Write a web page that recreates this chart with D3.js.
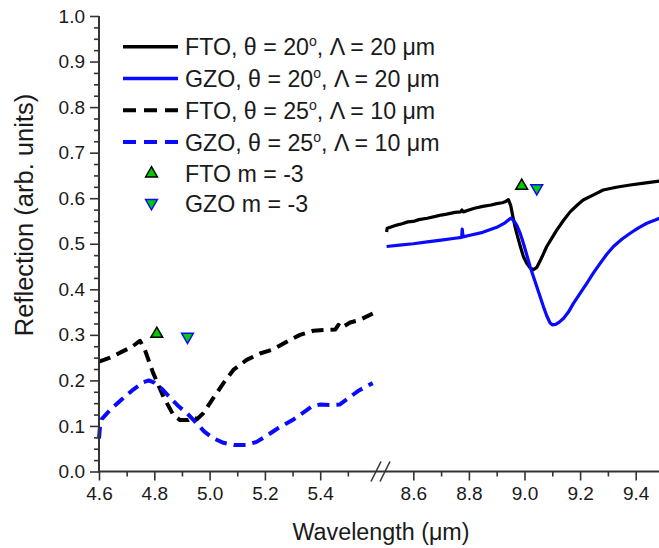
<!DOCTYPE html>
<html><head><meta charset="utf-8">
<script src="https://cdn.jsdelivr.net/npm/d3@7/dist/d3.min.js"></script>
<style>
html,body{margin:0;padding:0;background:#fff;}
svg{display:block;font-family:"Liberation Sans",Arial,sans-serif;}
</style></head>
<body>
<svg id="chart" width="659" height="548"></svg>
<script>
// ---------- data ----------
const yTicks = [0,0.1,0.2,0.3,0.4,0.5,0.6,0.7,0.8,0.9,1.0];
const xTicksLeft = [4.6,4.8,5.0,5.2,5.4];
const xMinorLeft = [4.7,4.9,5.1,5.3,5.5];
const xTicksRight = [8.6,8.8,9.0,9.2,9.4];
const xMinorRight = [8.7,8.9,9.1,9.3];

// FTO, theta = 20, Lambda = 20 um (solid black, right segment)
const ftoSolidX = [8.504,8.506,8.52,8.54,8.56,8.58,8.60,8.62,8.65,8.68,8.70,8.72,8.75,8.77,8.775,8.78,8.80,8.82,8.85,8.88,8.90,8.92,8.93,8.942,8.950,8.958,8.965,8.972,8.984,8.996,9.008,9.020,9.032,9.044,9.060,9.080,9.100,9.116,9.140,9.164,9.190,9.211,9.250,9.283,9.330,9.380,9.430,9.490];
const ftoSolidY = [0.526,0.534,0.537,0.541,0.544,0.548,0.549,0.553,0.556,0.560,0.563,0.565,0.569,0.570,0.574,0.570,0.574,0.578,0.582,0.585,0.588,0.590,0.592,0.597,0.585,0.560,0.540,0.523,0.496,0.472,0.457,0.447,0.443,0.448,0.467,0.494,0.514,0.530,0.551,0.570,0.585,0.596,0.608,0.618,0.624,0.629,0.633,0.638];

// GZO, theta = 20, Lambda = 20 um (solid blue, right segment)
const gzoSolidX = [8.504,8.55,8.60,8.65,8.70,8.75,8.774,8.776,8.779,8.80,8.85,8.90,8.93,8.950,8.960,8.972,8.985,8.996,9.008,9.020,9.032,9.044,9.056,9.068,9.080,9.092,9.100,9.112,9.125,9.140,9.158,9.176,9.200,9.224,9.248,9.272,9.296,9.320,9.350,9.380,9.410,9.440,9.470,9.490];
const gzoSolidY = [0.494,0.497,0.500,0.504,0.508,0.512,0.514,0.532,0.515,0.518,0.525,0.536,0.546,0.556,0.552,0.541,0.522,0.501,0.476,0.450,0.428,0.406,0.384,0.362,0.342,0.326,0.322,0.323,0.328,0.336,0.350,0.369,0.391,0.413,0.436,0.457,0.477,0.494,0.510,0.523,0.535,0.545,0.552,0.557];

// FTO, theta = 25, Lambda = 10 um (dashed black, left segment)
const ftoDashX = [4.600,4.640,4.680,4.720,4.748,4.766,4.796,4.833,4.869,4.893,4.923,4.941,4.955,4.977,5.013,5.050,5.086,5.134,5.182,5.230,5.279,5.327,5.375,5.424,5.455,5.466,5.475,5.508,5.544,5.590];
const ftoDashY = [0.241,0.250,0.262,0.274,0.287,0.267,0.216,0.164,0.124,0.113,0.113,0.120,0.115,0.128,0.161,0.194,0.223,0.245,0.259,0.268,0.285,0.300,0.309,0.311,0.312,0.322,0.315,0.327,0.333,0.347];

// GZO, theta = 25, Lambda = 10 um (dashed blue, left segment)
const gzoDashX = [4.600,4.603,4.610,4.640,4.680,4.720,4.760,4.780,4.800,4.830,4.860,4.890,4.920,4.950,4.980,5.010,5.050,5.090,5.130,5.170,5.210,5.250,5.300,5.340,5.370,5.400,5.440,5.470,5.500,5.540,5.590];
const gzoDashY = [0.072,0.095,0.115,0.135,0.157,0.178,0.196,0.200,0.195,0.180,0.160,0.142,0.127,0.108,0.088,0.074,0.063,0.058,0.058,0.065,0.080,0.096,0.113,0.130,0.143,0.147,0.146,0.147,0.160,0.178,0.194];

// m = -3 markers
const ftoMarkX = [4.809, 8.99];
const ftoMarkY = [0.302, 0.627];
const gzoMarkX = [4.92, 9.044];
const gzoMarkY = [0.296, 0.622];

const legendLabels = ["FTO, θ = 20", "GZO, θ = 20", "FTO, θ = 25", "GZO, θ = 25"];
const legendTails = [", Λ = 20 μm", ", Λ = 20 μm", ", Λ = 10 μm", ", Λ = 10 μm"];
const markerLabels = ["FTO m = -3", "GZO m = -3"];

// ---------- drawing ----------
const svg = d3.select("#chart");
const xL = d3.scaleLinear().domain([4.6,5.6]).range([99,375.5]);
const xR = d3.scaleLinear().domain([8.5,9.5]).range([385.5,663.5]);
const y = d3.scaleLinear().domain([0,1]).range([471.5,16]);

const BLACK = "#000000", BLUE = "#0a0aff", GREEN = "#00cc00", AX = "#333333", TXT = "#1a1a1a";

function zip(xs, ys){ return xs.map((v,i)=>[v, ys[i]]); }

function drawLine(xs, ys, xs_scale, color, dashed){
  const line = d3.line().x(d=>xs_scale(d[0])).y(d=>y(d[1]));
  svg.append("path").datum(zip(xs,ys))
    .attr("d", line)
    .attr("fill","none")
    .attr("stroke", color)
    .attr("stroke-width", dashed ? 4 : 3.2)
    .attr("stroke-linejoin","round")
    .attr("stroke-dasharray", dashed ? "12,7" : null);
}

drawLine(ftoSolidX, ftoSolidY, xR, BLACK, false);
drawLine(gzoSolidX, gzoSolidY, xR, BLUE, false);
drawLine(ftoDashX, ftoDashY, xL, BLACK, true);
drawLine(gzoDashX, gzoDashY, xL, BLUE, true);

const triUp = d3.symbol().type(d3.symbolTriangle).size(60);
function markers(xs, ys, up, stroke){
  xs.forEach((xv,i)=>{
    const sc = xv < 7 ? xL : xR;
    svg.append("path").attr("d", triUp())
      .attr("transform", `translate(${sc(xv)},${y(ys[i])}) rotate(${up?0:180})`)
      .attr("fill", GREEN).attr("stroke", stroke).attr("stroke-width", 1.5);
  });
}
markers(ftoMarkX, ftoMarkY, true, BLACK);
markers(gzoMarkX, gzoMarkY, false, BLUE);

// axes
const fmt = d3.format(".1f");
const gy = svg.append("g").attr("transform","translate(99,0)");
gy.call(d3.axisLeft(y).tickValues(yTicks).tickSize(9).tickPadding(5).tickFormat(fmt));
const yMinor = d3.range(0,1.0001,0.025).filter(v=>Math.abs(v*10-Math.round(v*10))>1e-6);
gy.call(g=>g.append("g").call(d3.axisLeft(y).tickValues(yMinor).tickSize(5).tickFormat("")));

const gxL = svg.append("g").attr("transform","translate(0,471.5)");
gxL.call(d3.axisBottom(xL).tickValues(xTicksLeft).tickSize(9).tickPadding(6).tickFormat(fmt));
gxL.append("g").call(d3.axisBottom(xL).tickValues(xMinorLeft).tickSize(5).tickFormat(""));
const gxR = svg.append("g").attr("transform","translate(0,471.5)");
gxR.call(d3.axisBottom(xR).tickValues(xTicksRight).tickSize(9).tickPadding(6).tickFormat(fmt));
gxR.append("g").call(d3.axisBottom(xR).tickValues(xMinorRight).tickSize(5).tickFormat(""));

svg.selectAll(".domain").remove();
svg.selectAll(".tick line").attr("stroke", AX).attr("stroke-width", 1.6);
svg.selectAll(".tick text").attr("fill", TXT).style("font-size","19px").style("font-family",'"Liberation Sans",Arial,sans-serif');

// axis lines
svg.append("line").attr("x1",99).attr("x2",99).attr("y1",y(1)).attr("y2",y(0)+1).attr("stroke",AX).attr("stroke-width",2);
svg.append("line").attr("x1",98).attr("x2",659).attr("y1",y(0)).attr("y2",y(0)).attr("stroke",AX).attr("stroke-width",2);

// break marks
const bc = (xL(5.6)+xR(8.5))/2;
[-4.5,4.5].forEach(off=>{
  svg.append("line").attr("x1",bc+off-5).attr("y1",y(0)+10).attr("x2",bc+off+5).attr("y2",y(0)-10)
    .attr("stroke",AX).attr("stroke-width",1.6);
});

// axis titles
svg.append("text").attr("x",381).attr("y",540).attr("text-anchor","middle")
  .attr("fill",TXT).style("font-size","23.3px").text("Wavelength (μm)");
svg.append("text").attr("transform","translate(33,215) rotate(-90)").attr("text-anchor","middle")
  .attr("fill",TXT).style("font-size","25.5px").text("Reflection (arb. units)");

// legend
const rowY = [46.7, 78.5, 110.3, 142.1, 173.5, 203];
const legColors = [BLACK, BLUE, BLACK, BLUE];
legendLabels.forEach((lab,i)=>{
  svg.append("line").attr("x1",123).attr("x2",178).attr("y1",rowY[i]).attr("y2",rowY[i])
    .attr("stroke",legColors[i]).attr("stroke-width", i<2?3.5:4)
    .attr("stroke-dasharray", i<2?null:"13,8");
  const t = svg.append("text").attr("x",185).attr("y",rowY[i]+8.5).attr("fill",TXT).style("font-size","23.2px");
  t.append("tspan").text(lab);
  t.append("tspan").attr("dy",-9).style("font-size","14px").text("o");
  t.append("tspan").attr("dy",9).text(legendTails[i]);
});
markerLabels.forEach((lab,i)=>{
  const yy = rowY[4+i];
  svg.append("path").attr("d", triUp())
    .attr("transform", `translate(151.5,${yy}) rotate(${i===0?0:180})`)
    .attr("fill", GREEN).attr("stroke", i===0?BLACK:BLUE).attr("stroke-width",1.5);
  svg.append("text").attr("x",185).attr("y",yy+8.5).attr("fill",TXT).style("font-size","23.2px").text(lab);
});
</script>
</body></html>
